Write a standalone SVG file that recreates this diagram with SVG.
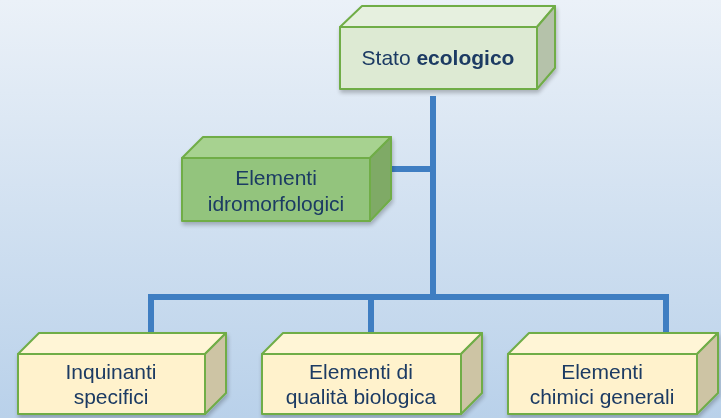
<svg xmlns="http://www.w3.org/2000/svg" width="721" height="418" viewBox="0 0 721 418">
<defs>
<linearGradient id="bg" x1="0" y1="0" x2="0" y2="1">
<stop offset="0" stop-color="#EBF1F8"/>
<stop offset="1" stop-color="#B9D1EA"/>
</linearGradient>
<filter id="sh" x="-10%" y="-10%" width="130%" height="130%">
<feGaussianBlur in="SourceAlpha" stdDeviation="2"/>
<feOffset dx="1" dy="3"/>
<feComponentTransfer><feFuncA type="linear" slope="0.25"/></feComponentTransfer>
<feMerge><feMergeNode/><feMergeNode in="SourceGraphic"/></feMerge>
</filter>
</defs>
<style>
.b path{stroke:#70AD47;stroke-width:2;stroke-linejoin:round}
.t{font-family:"Liberation Sans",Arial,sans-serif;font-size:21px;fill:#1B3A63;text-anchor:middle}
.lt .f{fill:#DDEAD3}.lt .u{fill:#E6F0DF}.lt .r{fill:#B5C2AA}
.md .f{fill:#93C47D}.md .u{fill:#A7D290}.md .r{fill:#7FAA66}
.y .f{fill:#FFF2CC}.y .u{fill:#FFF5D6}.y .r{fill:#CDC4A4}
.c{stroke:#3F7EC2;stroke-width:6;fill:none}
</style>
<rect width="721" height="418" fill="url(#bg)"/>
<g id="connectors">
<path class="c" d="M433 96V297M391 169H433M151 297H666M151 294V333M371 294V333M666 294V333"/>
</g>
<g id="stato" class="b lt" filter="url(#sh)">
<path class="u" d="M340 27L362 6H555L537 27Z"/>
<path class="r" d="M537 27L555 6V68L537 89Z"/>
<path class="f" d="M340 27H537V89H340Z"/>
<text class="t" x="438" y="65">Stato <tspan font-weight="bold">ecologico</tspan></text>
</g>
<g id="idro" class="b md" filter="url(#sh)">
<path class="u" d="M182 158L203 137H391L370 158Z"/>
<path class="r" d="M370 158L391 137V199L370 221Z"/>
<path class="f" d="M182 158H370V221H182Z"/>
<text class="t" x="276" y="185">Elementi</text>
<text class="t" x="276" y="211">idromorfologici</text>
</g>
<g id="inquinanti" class="b y" filter="url(#sh)">
<path class="u" d="M18 354L39 333H226L205 354Z"/>
<path class="r" d="M205 354L226 333V393L205 414Z"/>
<path class="f" d="M18 354H205V414H18Z"/>
<text class="t" x="111" y="379">Inquinanti</text>
<text class="t" x="111" y="404">specifici</text>
</g>
<g id="biologica" class="b y" filter="url(#sh)">
<path class="u" d="M262 354L283 333H482L461 354Z"/>
<path class="r" d="M461 354L482 333V393L461 414Z"/>
<path class="f" d="M262 354H461V414H262Z"/>
<text class="t" x="361" y="379">Elementi di</text>
<text class="t" x="361" y="404">qualità biologica</text>
</g>
<g id="chimici" class="b y" filter="url(#sh)">
<path class="u" d="M508 354L529 333H718L697 354Z"/>
<path class="r" d="M697 354L718 333V393L697 414Z"/>
<path class="f" d="M508 354H697V414H508Z"/>
<text class="t" x="602" y="379">Elementi</text>
<text class="t" x="602" y="404">chimici generali</text>
</g>
</svg>
